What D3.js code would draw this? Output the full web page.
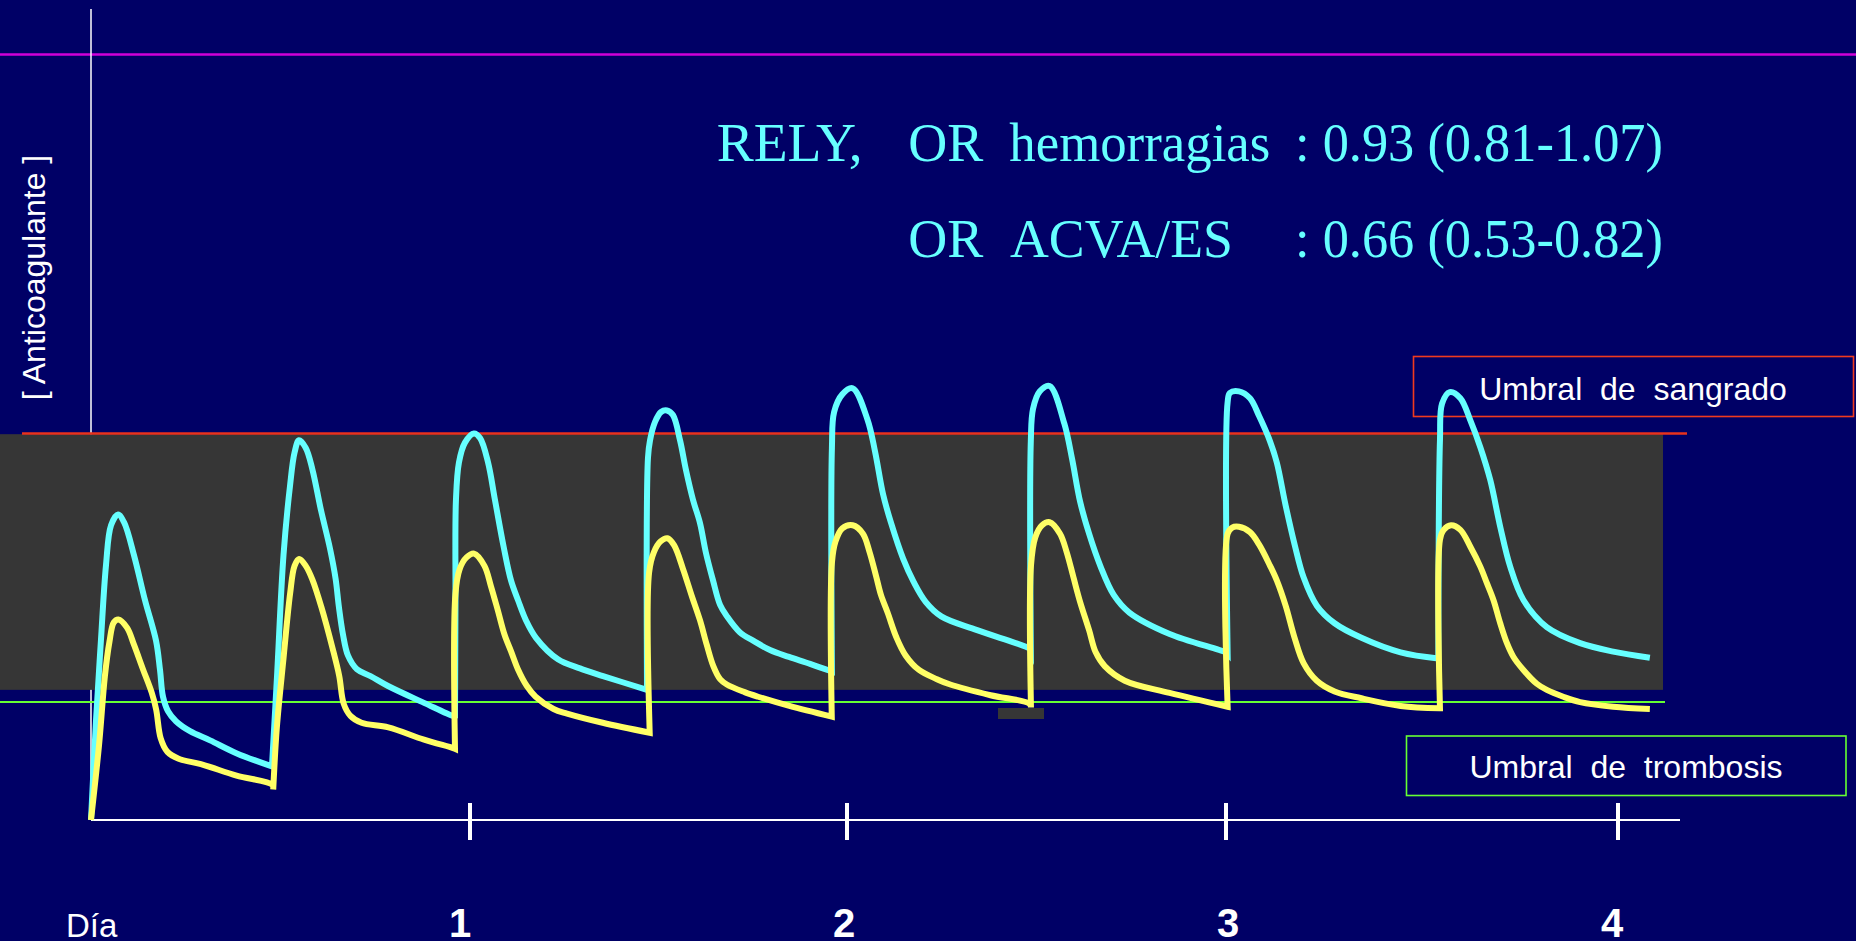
<!DOCTYPE html>
<html>
<head>
<meta charset="utf-8">
<script src="https://cdn.jsdelivr.net/npm/d3@7"></script>
<style>
  html, body { margin: 0; padding: 0; background: #000066; }
  svg { display: block; }
</style>
</head>
<body>
<div class="viz"></div>
<script>
//////////////////////////
// Data
//////////////////////////

// x in hours since first dose, y in arbitrary anticoagulant level (0..100)
const dayTicks = [1, 2, 3, 4];
const dayTickHours = [24, 48, 72, 96];

// thresholds and therapeutic band
const bleedingThreshold = 50.5;
const thrombosisThreshold = 15.4;
const therapeuticBand = [17.0, 50.4];

// cyan curve
const highHours = [
    0, 0.32, 0.63, 0.95, 1.27, 1.71, 2.09, 2.72, 3.42, 4.12, 4.37, 4.56, 4.88, 5.38, 6.27, 7.54, 9.24, 11.46,
    11.78, 12.19, 12.6, 12.89, 13.17, 13.6, 14.02, 14.56, 15.13, 15.49, 15.7, 15.96, 16.27, 16.84, 17.7, 18.81, 21.09, 22.92,
    23.05, 23.08, 23.11, 23.3, 23.68, 24.25, 24.64, 25.15, 25.59, 26.16, 26.61, 27.06, 27.56, 28.2, 29.6, 31.0, 32.47, 35.27,
    35.33, 35.46, 35.78, 36.16, 36.54, 36.92, 37.37, 37.75, 38.2, 38.64, 39.02, 39.47, 39.92, 40.36, 41.19, 42.05, 43.1, 44.31, 45.65, 47.04,
    47.04, 47.18, 47.7, 48.36, 49.3, 49.78, 50.29, 50.79, 51.56, 52.22, 52.98, 53.97, 56.24, 59.56,
    59.64, 59.64, 59.78, 60.21, 60.83, 61.76, 62.25, 62.76, 63.33, 64.04, 64.89, 65.88, 68.43, 71.97,
    72.1, 72.1, 72.24, 72.79, 73.47, 74.02, 74.69, 75.11, 75.65, 76.2, 76.75, 77.56, 78.65, 80.29, 82.69,
    85.0, 85.1, 85.23, 85.7, 86.35, 86.96, 87.57, 88.18, 88.79, 89.4, 90.22, 91.64, 93.68, 95.71, 97.95
];
const highLevels = [
    0, 13.1, 23.5, 33.3, 38.5, 39.9, 38.9, 34.6, 28.7, 23.4, 19.6, 16.1, 14.2, 12.9, 11.6, 10.4, 8.7, 7.0,
    18.8, 34.6, 43.6, 48.0, 49.6, 48.6, 45.8, 40.5, 35.5, 31.5, 27.8, 24.2, 21.5, 19.7, 18.8, 17.5, 15.3, 13.6,
    13.6, 28.7, 41.8, 46.7, 49.3, 50.5, 49.9, 46.7, 41.8, 35.5, 31.3, 28.7, 26.1, 23.8, 21.0, 19.8, 18.8, 17.0,
    47.3, 49.6, 52.0, 53.3, 53.5, 52.9, 49.6, 45.7, 41.8, 38.8, 34.9, 31.3, 28.1, 26.6, 24.5, 23.4, 22.2, 21.3, 20.4, 19.4,
    48.6, 53.3, 55.6, 56.4, 52.3, 48.1, 42.5, 38.8, 34.1, 31.1, 28.5, 26.6, 24.8, 22.4,
    22.2, 49.5, 53.7, 56.0, 56.7, 51.8, 47.2, 41.6, 37.4, 33.2, 29.4, 27.1, 24.3, 21.9,
    21.7, 54.6, 55.8, 56.0, 55.1, 52.8, 49.5, 46.7, 41.1, 36.0, 31.7, 28.0, 25.7, 23.8, 21.9,
    21.1, 49.6, 54.4, 55.9, 55.1, 52.2, 48.7, 44.4, 38.3, 33.1, 28.7, 25.2, 23.1, 22.0, 21.2
];

// yellow curve
const lowHours = [
    0, 0.51, 0.88, 1.17, 1.44, 1.73, 2.29, 2.72, 3.29, 3.85, 4.13, 4.41, 4.84, 5.55, 6.96, 9.22, 11.48,
    11.54, 11.77, 12.19, 12.61, 12.89, 13.18, 13.6, 14.02, 14.59, 15.3, 15.72, 16.0, 16.43, 17.13, 18.83, 21.09, 22.93,
    23.05, 23.08, 23.35, 23.78, 24.26, 24.92, 25.34, 25.77, 26.2, 26.62, 27.05, 27.62, 28.18, 29.32, 30.18, 32.45, 35.44,
    35.4, 35.71, 36.14, 36.57, 36.99, 37.56, 38.13, 38.64, 39.07, 39.49, 39.92, 40.35, 41.48, 42.34, 44.33, 47.03,
    47.04, 47.27, 47.7, 48.36, 49.01, 49.43, 49.86, 50.15, 50.57, 51.14, 51.71, 52.56, 53.69, 54.54, 57.09, 59.56,
    59.65, 59.65, 59.92, 60.35, 60.83, 61.49, 61.91, 62.34, 62.76, 63.33, 63.75, 64.32, 65.59, 68.43, 72.1,
    72.1, 72.38, 72.79, 73.47, 74.02, 74.7, 75.11, 75.65, 76.2, 76.75, 77.56, 78.65, 80.29, 82.69,
    85.1, 85.1, 85.33, 85.78, 86.35, 86.96, 87.57, 87.98, 88.38, 88.79, 89.2, 89.6, 90.21, 91.03, 91.64, 92.65, 93.68, 95.71, 97.95
];
const lowLevels = [
    0, 9.8, 18.8, 23.3, 25.8, 26.2, 25.1, 22.9, 19.7, 16.6, 14.4, 10.7, 8.9, 8.0, 7.3, 5.8, 4.6,
    4.0, 12.1, 21.1, 29.6, 33.2, 34.1, 33.2, 31.4, 27.8, 22.4, 18.8, 15.2, 13.6, 12.7, 12.1, 10.5, 9.4,
    9.3, 29.6, 32.8, 34.3, 34.8, 33.2, 30.5, 27.4, 24.2, 22.0, 19.7, 17.5, 16.1, 14.5, 13.9, 12.7, 11.4,
    32.3, 35.0, 36.4, 36.8, 35.9, 32.8, 29.2, 26.1, 22.9, 20.1, 18.4, 17.7, 16.7, 16.1, 14.9, 13.5,
    33.6, 36.4, 38.1, 38.5, 37.4, 35.0, 31.7, 29.4, 27.1, 23.8, 21.5, 19.6, 18.4, 17.7, 16.3, 15.2,
    14.7, 33.2, 36.9, 38.5, 38.9, 37.4, 35.0, 31.7, 28.5, 24.8, 21.9, 20.1, 18.2, 16.6, 14.8,
    37.4, 38.2, 38.3, 37.6, 36.0, 33.2, 31.3, 28.0, 23.8, 20.5, 18.2, 16.8, 15.9, 14.9,
    14.6, 36.6, 37.9, 38.5, 37.9, 35.7, 33.1, 30.9, 28.7, 25.7, 23.1, 21.3, 19.6, 17.8, 17.0, 16.1, 15.4, 14.8, 14.5
];

// text
const yLabel = '[ Anticoagulante ]';
const xLabel = 'Día';
const bleedingLabel = 'Umbral  de  sangrado';
const thrombosisLabel = 'Umbral  de  trombosis';
const titleRows = [
    [['RELY,', 716.7, 146], ['OR', 908.3, null], ['hemorragias', 1009.3, 261], [': 0.93 (0.81-1.07)', 1295, 368]],
    [['OR', 908.3, null], ['ACVA/ES', 1010, 223], [': 0.66 (0.53-0.82)', 1295, 368]]
];

//////////////////////////
// D3 Stuff
//////////////////////////

const width = 1856;
const height = 941;

var svg = d3.select('div.viz')
    .append('svg')
    .attr('width', width)
    .attr('height', height);

svg.append('rect')
    .attr('width', width)
    .attr('height', height)
    .attr('fill', '#000066');

// hours -> px (day ticks are not evenly spaced in the original)
var xScale = d3.scaleLinear()
    .domain([0, 24, 48, 72, 96])
    .range([91, 470, 847, 1226, 1618]);

var yScale = d3.scaleLinear()
    .domain([0, 100])
    .range([820, 54.5]);

// tick labels sit on an even grid
var labelScale = d3.scaleLinear()
    .domain([1, 4])
    .range([460, 1612]);

// magenta top rule
svg.append('line')
    .attr('x1', 0).attr('x2', width)
    .attr('y1', yScale(100)).attr('y2', yScale(100))
    .attr('stroke', '#d000d8')
    .attr('stroke-width', 2.5);

// y axis
svg.append('line')
    .attr('x1', xScale(0)).attr('x2', xScale(0))
    .attr('y1', 9).attr('y2', yScale(0))
    .attr('stroke', '#ffffff')
    .attr('stroke-width', 1.5);

// therapeutic band
svg.append('rect')
    .attr('x', 0)
    .attr('y', yScale(therapeuticBand[1]))
    .attr('width', 1663)
    .attr('height', yScale(therapeuticBand[0]) - yScale(therapeuticBand[1]))
    .attr('fill', '#363636');

// bleeding threshold
svg.append('line')
    .attr('x1', 22).attr('x2', 1687)
    .attr('y1', yScale(bleedingThreshold)).attr('y2', yScale(bleedingThreshold))
    .attr('stroke', '#e8321c')
    .attr('stroke-width', 2.5);

// thrombosis threshold
svg.append('line')
    .attr('x1', 0).attr('x2', 1665)
    .attr('y1', yScale(thrombosisThreshold)).attr('y2', yScale(thrombosisThreshold))
    .attr('stroke', '#66ff33')
    .attr('stroke-width', 2);

// x axis
var xAxis = svg.append('g').attr('class', 'x-axis');

xAxis.append('line')
    .attr('x1', xScale(0)).attr('x2', 1680)
    .attr('y1', yScale(0)).attr('y2', yScale(0))
    .attr('stroke', '#ffffff')
    .attr('stroke-width', 2);

xAxis.selectAll('line.tick')
    .data(dayTickHours)
    .enter()
    .append('line')
        .attr('class', 'tick')
        .attr('x1', (d) => xScale(d)).attr('x2', (d) => xScale(d))
        .attr('y1', yScale(0) - 17).attr('y2', yScale(0) + 20)
        .attr('stroke', '#ffffff')
        .attr('stroke-width', 4);

xAxis.selectAll('text.tick-label')
    .data(dayTicks)
    .enter()
    .append('text')
        .attr('class', 'tick-label')
        .attr('x', (d) => labelScale(d))
        .attr('y', 937)
        .attr('text-anchor', 'middle')
        .attr('fill', '#ffffff')
        .style('font-family', '"Liberation Sans", Arial, sans-serif')
        .style('font-weight', 'bold')
        .style('font-size', '40px')
        .text((d) => d);

svg.append('text')
    .attr('x', 66)
    .attr('y', 937)
    .attr('fill', '#ffffff')
    .style('font-family', '"Liberation Sans", Arial, sans-serif')
    .style('font-size', '33px')
    .text(xLabel);

svg.append('text')
    .attr('transform', 'translate(45,277.5) rotate(-90)')
    .attr('text-anchor', 'middle')
    .attr('fill', '#ffffff')
    .style('font-family', '"Liberation Sans", Arial, sans-serif')
    .style('font-size', '32px')
    .text(yLabel);

// legend boxes
function legendBox(x, y, w, h, color, label, tx, ty) {
    var g = svg.append('g').attr('class', 'legend');
    g.append('rect')
        .attr('x', x).attr('y', y)
        .attr('width', w).attr('height', h)
        .attr('fill', 'none')
        .attr('stroke', color)
        .attr('stroke-width', 1.6);
    g.append('text')
        .attr('x', tx).attr('y', ty)
        .attr('text-anchor', 'middle')
        .attr('fill', '#ffffff')
        .style('white-space', 'pre')
        .style('font-family', '"Liberation Sans", Arial, sans-serif')
        .style('font-size', '32px')
        .text(label);
}
legendBox(1413.5, 356.5, 440, 60, '#f03a1e', bleedingLabel, 1633, 399.5);
legendBox(1406.5, 736, 439.5, 59.5, '#66ff33', thrombosisLabel, 1626, 777.5);

// curves
var line = d3.line()
    .x((d) => xScale(d[0]))
    .y((d) => yScale(d[1]))
    .curve(d3.curveCatmullRom.alpha(0.5));

// cut a series at each trough so the dose jumps keep a sharp corner
function splitAtTroughs(pts) {
    var segs = [];
    var cur = [pts[0]];
    for (var i = 1; i < pts.length; i++) {
        cur.push(pts[i]);
        if (i < pts.length - 1 && pts[i][1] <= pts[i - 1][1] && pts[i + 1][1] > pts[i][1]) {
            segs.push(cur);
            cur = [pts[i]];
        }
    }
    segs.push(cur);
    return segs;
}

function curvePath(pts) {
    return splitAtTroughs(pts).map(function(seg, i) {
        var d = line(seg);
        // later pieces continue from the shared trough point
        return i === 0 ? d : d.replace(/^M[^A-Za-z]*/, '');
    }).join('');
}

var series = [
    { name: 'high', color: '#66ffff', points: d3.zip(highHours, highLevels) },
    { name: 'low', color: '#ffff66', points: d3.zip(lowHours, lowLevels) }
];

svg.selectAll('path.curve')
    .data(series)
    .enter()
    .append('path')
        .attr('class', 'curve')
        .attr('d', (d) => curvePath(d.points))
        .attr('fill', 'none')
        .attr('stroke', (d) => d.color)
        .attr('stroke-width', 6)
        .attr('stroke-linejoin', 'miter')
        .attr('stroke-miterlimit', 6);

// small grey patch under the fifth trough
svg.append('rect')
    .attr('x', 998).attr('y', 708)
    .attr('width', 46).attr('height', 11)
    .attr('fill', '#363636');

// title
var title = svg.append('g').attr('class', 'title');
titleRows.forEach(function(row, i) {
    row.forEach(function(seg) {
        var t = title.append('text')
            .attr('x', seg[1])
            .attr('y', i === 0 ? 161 : 256.5)
            .attr('fill', '#66ffff')
            .style('white-space', 'pre')
            .style('font-family', '"Liberation Serif", "Times New Roman", serif')
            .style('font-size', '54px')
            .text(seg[0]);
        if (seg[2]) {
            t.attr('textLength', seg[2]).attr('lengthAdjust', 'spacingAndGlyphs');
        }
    });
});
</script>
</body>
</html>
